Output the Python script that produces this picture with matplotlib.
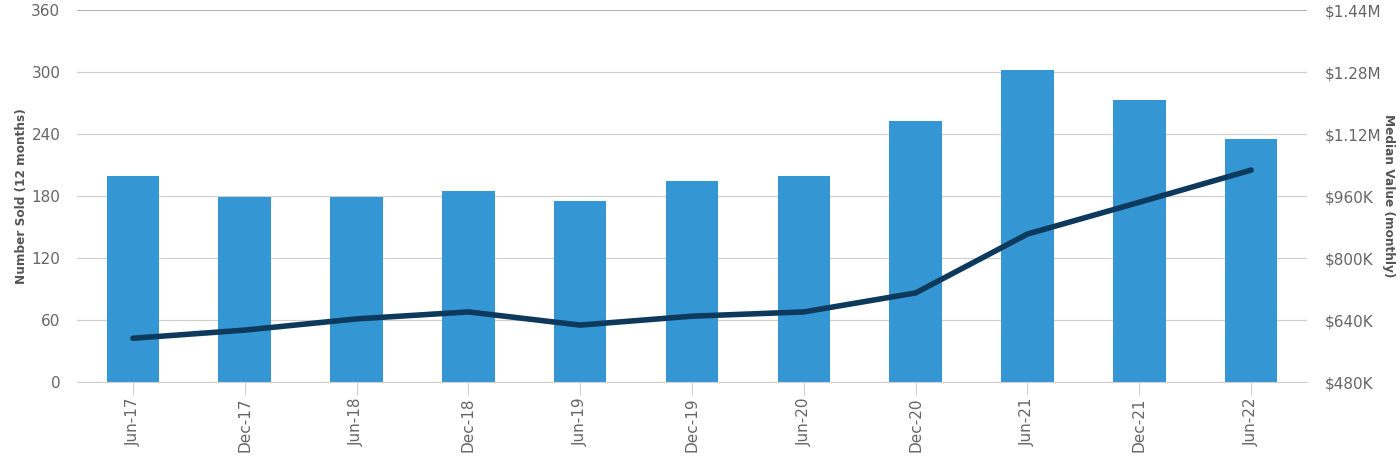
import matplotlib.pyplot as plt
import numpy as np
from matplotlib.ticker import FuncFormatter

periods = ["Jun-17", "Dec-17", "Jun-18", "Dec-18", "Jun-19", "Dec-19",
           "Jun-20", "Dec-20", "Jun-21", "Dec-21", "Jun-22"]
number_sold = [199, 179, 179, 185, 175, 195, 199, 253, 302, 273, 235]
median_value = [593e3, 614e3, 643e3, 661e3, 627e3, 650e3, 661e3, 710e3, 862e3, 944e3, 1027e3]

left_ticks = [0, 60, 120, 180, 240, 300, 360]
right_ticks = [480e3, 640e3, 800e3, 960e3, 1120e3, 1280e3, 1440e3]

BAR = "#3596d4"
LINE = "#0d3a5c"
TXT = "#666666"
GRID = "#d0d0d0"


def money(v, _pos=None):
    if v >= 1e6:
        return f"${v / 1e6:.2f}M"
    return f"${v / 1e3:.0f}K"


fig = plt.figure(figsize=(14, 4.57), dpi=100)
ax = fig.add_axes([0.055, 0.164, 0.8786, 0.814])
x = np.arange(len(periods))

ax.bar(x, number_sold, width=0.47, color=BAR, zorder=2)
ax.set_xlim(-0.5, len(periods) - 0.5)
ax.set_ylim(0, 360)
ax.set_yticks(left_ticks)
ax.grid(axis="y", color=GRID, linewidth=0.9, zorder=0)
ax.set_axisbelow(True)
for s in ["top", "right", "left"]:
    ax.spines[s].set_visible(False)
ax.spines["bottom"].set_color(GRID)
ax.tick_params(axis="y", length=0, labelsize=11, labelcolor=TXT, pad=12)
ax.tick_params(axis="x", length=9, color=GRID, labelsize=11, labelcolor=TXT, pad=2)
ax.set_xticks(x)
ax.set_xticklabels(periods, rotation=90)
ax.axhline(360, color="#b0b0b0", linewidth=1.2, zorder=1)

ax2 = ax.twinx()
ax2.plot(x, median_value, color=LINE, linewidth=4, solid_capstyle="round", zorder=3)
ax2.set_ylim(480e3, 1440e3)
ax2.set_yticks(right_ticks)
ax2.yaxis.set_major_formatter(FuncFormatter(money))
for s in ["top", "right", "left", "bottom"]:
    ax2.spines[s].set_visible(False)
ax2.tick_params(axis="y", length=0, labelsize=11, labelcolor=TXT, pad=13)

fig.text(22 / 1400, 1 - 196 / 457, "Number Sold (12 months)", rotation=90, ha="center", va="center",
         fontsize=8.7, fontweight="bold", color="#555555")
fig.text(1388 / 1400, 1 - 196 / 457, "Median Value (monthly)", rotation=270, ha="center", va="center",
         fontsize=8.7, fontweight="bold", color="#555555")

fig.savefig("out.png", dpi=100)
